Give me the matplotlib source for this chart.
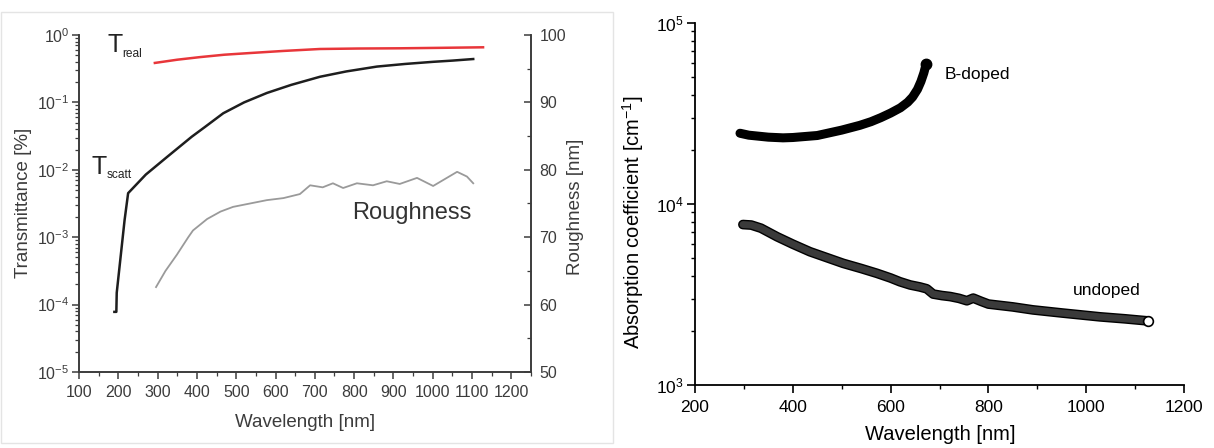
import matplotlib
matplotlib.use("Agg")
import matplotlib.pyplot as plt
import matplotlib.patheffects as pe
from matplotlib.ticker import MultipleLocator, LogLocator, NullFormatter
import numpy as np

plt.rcParams['font.family'] = ['Liberation Sans', 'DejaVu Sans']

# left panel data
treal_wl = [293, 350, 408, 470, 535, 620, 713, 810, 917, 1020, 1128]
treal = [0.385, 0.43, 0.47, 0.51, 0.54, 0.58, 0.62, 0.63, 0.635, 0.645, 0.657]

tscatt_wl = [190, 195, 196, 216, 225, 270, 324, 387, 420, 467, 520, 578, 640,
             713, 780, 858, 930, 1001, 1050, 1103]
tscatt = [7.8e-5, 7.8e-5, 1.5e-4, 1.8e-3, 4.5e-3, 8.5e-3, 1.55e-2, 3.1e-2, 4.3e-2,
          6.9e-2, 0.100, 0.138, 0.182, 0.24, 0.288, 0.34, 0.372, 0.40, 0.417, 0.44]

rough_wl = [296, 320, 349, 378, 390, 426, 460, 492, 535, 578, 620, 662, 688,
            720, 746, 772, 807, 848, 883, 916, 960, 1001, 1062, 1087, 1103]
rough = [62.6, 65.0, 67.4, 70.0, 71.0, 72.7, 73.8, 74.5, 75.0, 75.5, 75.8, 76.4,
         77.7, 77.4, 78.0, 77.3, 78.0, 77.7, 78.3, 77.9, 78.8, 77.6, 79.7, 79.0, 78.0]

# right panel data
bdoped_wl = [292, 310, 350, 380, 400, 450, 500, 537, 560, 580, 600, 620, 635,
             645, 655, 662, 668, 673]
bdoped = [24600, 24000, 23400, 23200, 23300, 23900, 25600, 27200, 28500, 30000,
          31800, 34000, 36500, 39000, 43000, 47500, 53000, 59700]

undoped_wl = [298, 315, 335, 368, 400, 435, 470, 503, 540, 572, 600, 619, 640,
              660, 674, 687, 705, 722, 740, 756, 769, 785, 800, 850, 891, 950,
              1028, 1080, 1126]
undoped = [7700, 7650, 7350, 6590, 6000, 5450, 5050, 4700, 4400, 4140, 3900, 3720,
           3570, 3480, 3400, 3180, 3120, 3080, 3010, 2920, 3020, 2900, 2800, 2700,
           2600, 2500, 2380, 2320, 2260]

W, H = 1214, 448
fig = plt.figure(figsize=(W / 100, H / 100), dpi=100)


def px(x, y):
    return x / W, 1 - y / H


gray = '#3c3c3c'

# faint frame around the left picture
fig.add_artist(plt.Rectangle(px(1, 443), 612 / W, 431 / H, transform=fig.transFigure,
                             fill=False, edgecolor='#e4e4e4', lw=1))

# %% left panel
ax1 = fig.add_axes([79 / W, 1 - 372 / H, 452 / W, 337 / H])
ax1.set_yscale('log')
ax1.set_xlim(100, 1250)
ax1.set_ylim(1e-5, 1)
ax1.plot(treal_wl, treal, color='#e8363a', lw=1.8)
ax1.plot(tscatt_wl, tscatt, color='#1e1e1e', lw=1.8)
ax1.set_xticks(np.arange(100, 1201, 100))
ax1.xaxis.set_minor_locator(MultipleLocator(50))
ax1.yaxis.set_major_locator(LogLocator(base=10, numticks=10))
ax1.yaxis.set_minor_locator(LogLocator(base=10, subs=np.arange(2, 10), numticks=10))
ax1.yaxis.set_minor_formatter(NullFormatter())
ax1.tick_params(axis='both', which='major', direction='out', length=5, width=1.1,
                color=gray, labelcolor=gray, labelsize=11.5, pad=2)
ax1.tick_params(axis='x', which='major', pad=4)
ax1.tick_params(axis='both', which='minor', direction='out', length=3, width=0.9, color=gray)
for s in ax1.spines.values():
    s.set_color(gray)
    s.set_linewidth(1.2)
ax1.spines['top'].set_visible(False)

ax1r = ax1.twinx()
ax1r.set_ylim(50, 100)
ax1r.plot(rough_wl, rough, color='#9a9a9a', lw=1.3)
ax1r.yaxis.set_major_locator(MultipleLocator(10))
ax1r.yaxis.set_minor_locator(MultipleLocator(5))
ax1r.tick_params(axis='y', which='major', direction='in', length=5, width=1.1,
                 color=gray, labelcolor=gray, labelsize=11.5, pad=6)
ax1r.tick_params(axis='y', which='minor', direction='in', length=3, width=0.9, color=gray)
for s in ax1r.spines.values():
    s.set_color(gray)
    s.set_linewidth(1.2)
ax1r.spines['top'].set_visible(False)

fig.text(*px(24, 203), 'Transmittance [%]', rotation=90, ha='center', va='center',
         fontsize=13.5, color=gray)
fig.text(*px(575, 207), 'Roughness [nm]', rotation=90, ha='center', va='center',
         fontsize=13.5, color=gray)
fig.text(*px(305, 422), 'Wavelength [nm]', ha='center', va='center',
         fontsize=13.5, color=gray)

fig.text(*px(107, 45), 'T', ha='left', va='center', fontsize=18, color='#222222')
fig.text(*px(122, 54), 'real', ha='left', va='center', fontsize=8.6, color='#222222')
fig.text(*px(92, 167), 'T', ha='left', va='center', fontsize=18, color='#222222')
fig.text(*px(107, 175), 'scatt', ha='left', va='center', fontsize=8.6, color='#222222')
fig.text(*px(352, 213), 'Roughness', ha='left', va='center', fontsize=17, color='#333333')

# %% right panel
ax2 = fig.add_axes([695 / W, 1 - 385 / H, 489 / W, 362 / H])
ax2.set_yscale('log')
ax2.set_xlim(200, 1200)
ax2.set_ylim(1e3, 1e5)

ax2.plot(bdoped_wl, bdoped, color='black', lw=6.5, solid_capstyle='round',
         solid_joinstyle='round')
ax2.plot(bdoped_wl[-1:], bdoped[-1:], 'o', color='black', ms=7.5)
ax2.plot(undoped_wl, undoped, color='#3a3a3a', lw=5, solid_capstyle='round',
         solid_joinstyle='round',
         path_effects=[pe.Stroke(linewidth=7, foreground='black'), pe.Normal()])
ax2.plot(undoped_wl[-1:], undoped[-1:], 'o', mfc='white', mec='black', mew=1.2, ms=7)

ax2.set_xticks(np.arange(200, 1201, 200))
ax2.xaxis.set_minor_locator(MultipleLocator(100))
ax2.yaxis.set_major_locator(LogLocator(base=10, numticks=10))
ax2.yaxis.set_minor_locator(LogLocator(base=10, subs=np.arange(2, 10), numticks=10))
ax2.yaxis.set_minor_formatter(NullFormatter())
ax2.tick_params(axis='both', which='major', direction='out', length=6, width=1.2,
                labelsize=12.5, pad=2, color='black')
ax2.tick_params(axis='x', which='major', pad=5)
ax2.tick_params(axis='both', which='minor', direction='out', length=3, width=1.0)
ax2.spines['top'].set_visible(False)
ax2.spines['right'].set_visible(False)
for s in ('left', 'bottom'):
    ax2.spines[s].set_linewidth(1.3)

fig.text(*px(633, 222), 'Absorption coefficient [cm$^{\\mathdefault{-1}}$]', rotation=90,
         ha='center', va='center', fontsize=14.5)
fig.text(*px(940, 434), 'Wavelength [nm]', ha='center', va='center', fontsize=14.5)

fig.text(*px(945, 74), 'B-doped', ha='left', va='center', fontsize=12.5)
fig.text(*px(1073, 291), 'undoped', ha='left', va='center', fontsize=12.5)

fig.savefig('out.png', dpi=100)
